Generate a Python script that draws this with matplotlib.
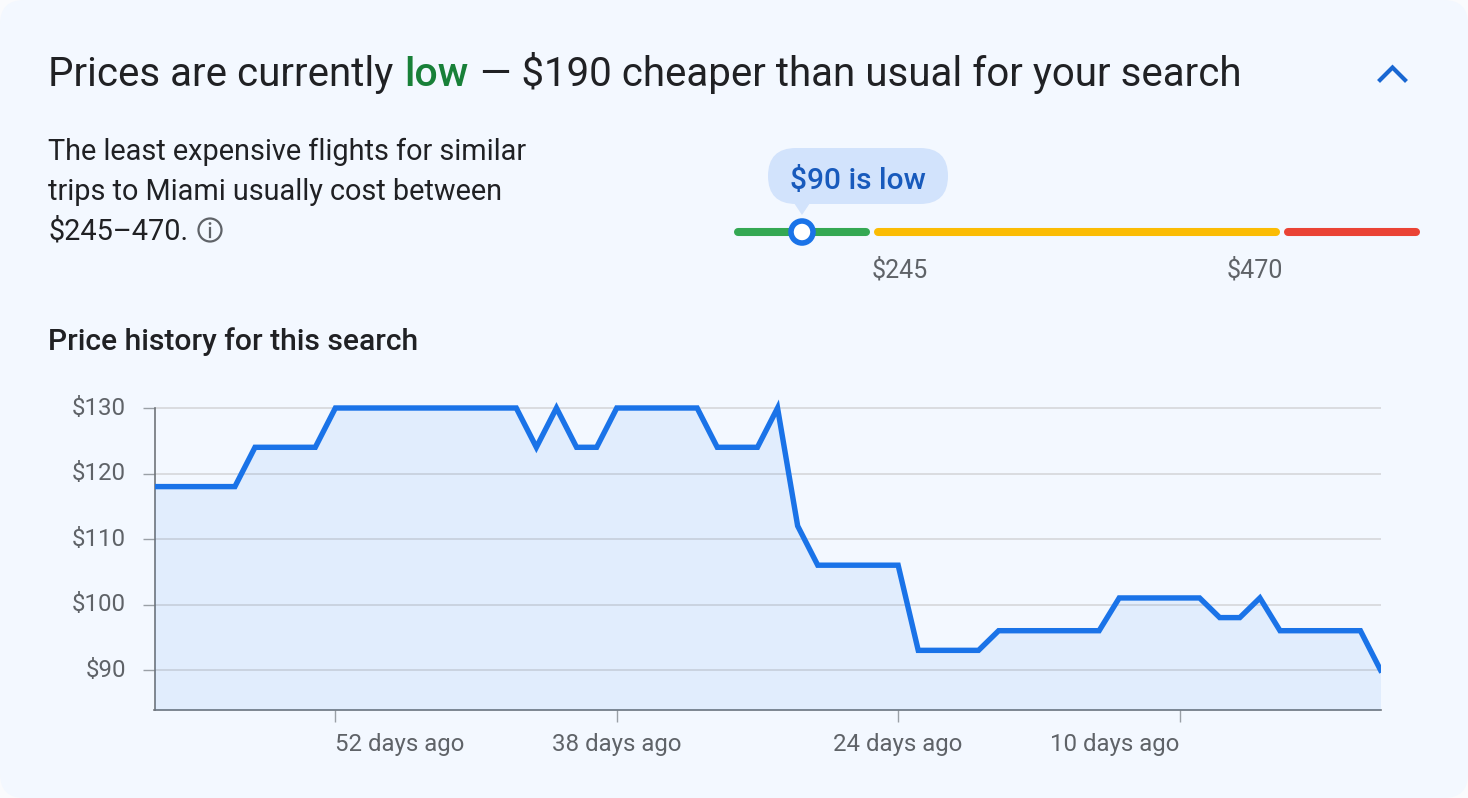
import matplotlib.pyplot as plt
from matplotlib.patches import Circle, FancyBboxPatch, Polygon

# one price per day, 61 days ago up to today
days_ago = list(range(61, -1, -1))
prices = [
    118, 118, 118, 118, 118, 124, 124, 124, 124, 130,
    130, 130, 130, 130, 130, 130, 130, 130, 130, 124,
    130, 124, 124, 130, 130, 130, 130, 130, 124, 124,
    124, 130, 112, 106, 106, 106, 106, 106, 93, 93,
    93, 93, 96, 96, 96, 96, 96, 96, 101, 101,
    101, 101, 101, 98, 98, 101, 96, 96, 96, 96,
    96, 90,
]
y_ticks = [90, 100, 110, 120, 130]
y_labels = ["$90", "$100", "$110", "$120", "$130"]
x_ticks = [52, 38, 24, 10]
x_labels = ["52 days ago", "38 days ago", "24 days ago", "10 days ago"]
x_label_align = ["left", "center", "center", "right"]
range_labels = ["$245", "$470"]

W, H = 1468, 798
CARD = "#F3F8FF"
BLUE = "#1A73E8"
DARK = "#202124"
GREY = "#5F6368"

plt.rcParams["font.family"] = ["Roboto", "DejaVu Sans"]

fig = plt.figure(figsize=(W / 100, H / 100), dpi=100, facecolor="#FAFBFD")

# card and all text around the chart, in pixel coordinates
ui = fig.add_axes([0, 0, 1, 1])
ui.set_xlim(0, W)
ui.set_ylim(H, 0)
ui.axis("off")
ui.add_patch(FancyBboxPatch((24, 24), W - 48, H - 48, boxstyle="round,pad=24,rounding_size=24",
                            fc=CARD, ec="none", zorder=0))

ui.text(48, 86, "Prices are currently", fontsize=29, color=DARK, va="baseline")
ui.text(404.5, 86, "low", fontsize=29.5, color="#188038", weight="medium", va="baseline")
ui.text(480.5, 86, "— $190 cheaper than usual for your search", fontsize=28.95, color=DARK, va="baseline")
ui.plot([1380, 1392.5, 1405], [80, 67.5, 80], color="#1967D2", lw=3, solid_joinstyle="miter")

for y, line in zip([160, 200, 240], ["The least expensive flights for similar",
                                     "trips to Miami usually cost between", "$245–470."]):
    ui.text(48, y, line, fontsize=20.8, color=DARK, va="baseline")
ui.add_patch(Circle((210, 230), 11.5, fc="none", ec=GREY, lw=1.6))
ui.plot([210, 210], [228, 237], color=GREY, lw=1.6)
ui.add_patch(Circle((210, 223.5), 1.4, fc=GREY, ec="none"))

# price range slider
for x0, x1, color in [(738, 866, "#34A853"), (878, 1276, "#FBBC04"), (1288, 1416, "#EA4335")]:
    ui.plot([x0, x1], [232, 232], color=color, lw=5.8, solid_capstyle="round", zorder=1)
ui.add_patch(FancyBboxPatch((796, 176), 124, 0, boxstyle="round,pad=28,rounding_size=28",
                            fc="#D2E3FC", ec="none", zorder=2))
ui.add_patch(Polygon([[794, 203], [810, 203], [802, 215]], fc="#D2E3FC", ec="none", zorder=2))
ui.text(858, 180.5, "$90 is low", fontsize=21.5, color="#185ABC", weight="medium", ha="center", va="center", zorder=3)
ui.add_patch(Circle((802, 232), 11, fc="white", ec=BLUE, lw=4, zorder=3))
ui.text(899.5, 270, range_labels[0], fontsize=18, color=GREY, ha="center", va="center")
ui.text(1254.5, 270, range_labels[1], fontsize=18, color=GREY, ha="center", va="center")

ui.text(48, 350.5, "Price history for this search", fontsize=21.6, color=DARK, weight="medium", va="baseline")

# plot area is about 1226 px wide; the top is left open so line peaks are not cut
y_top = 133
px_per_dollar = (670 - 408) / 40
y_min = 90 - (710 - 670) / px_per_dollar
top_px = 408 - (y_top - 130) * px_per_dollar
ax = fig.add_axes([154.5 / W, 1 - 710 / H, (1380.5 - 154.5) / W, (710 - top_px) / H])
ax.patch.set_alpha(0)
ax.set_xlim(61, 0)
ax.set_ylim(y_min, y_top)

ax.fill_between(days_ago, prices, y_min, color=BLUE, alpha=0.08, lw=0, zorder=3)
ax.plot(days_ago, prices, color=BLUE, lw=3.9, solid_joinstyle="miter", zorder=4)

ax.set_yticks(y_ticks, y_labels, fontsize=17.3, color=GREY, va="center")
ax.set_xticks(x_ticks, x_labels, fontsize=17.3, color=GREY)
for label, align in zip(ax.get_xticklabels(), x_label_align):
    label.set_ha(align)
ax.tick_params(axis="y", length=8.6, width=1, color="#9AA0A6", pad=12)
ax.tick_params(axis="x", length=8.6, width=1, color="#9AA0A6", pad=8)
ax.grid(axis="y", color="#DADCE0", lw=1.4, zorder=1)
ax.set_axisbelow(True)

for side in ["top", "right"]:
    ax.spines[side].set_visible(False)
ax.spines["left"].set_bounds(y_min, 130)
ax.spines["left"].set_color("#70757A")
ax.spines["bottom"].set_color("#70757A")
ax.spines["left"].set_linewidth(1.2)
ax.spines["bottom"].set_linewidth(1.2)

fig.savefig("out.png", dpi=100, facecolor=fig.get_facecolor())
